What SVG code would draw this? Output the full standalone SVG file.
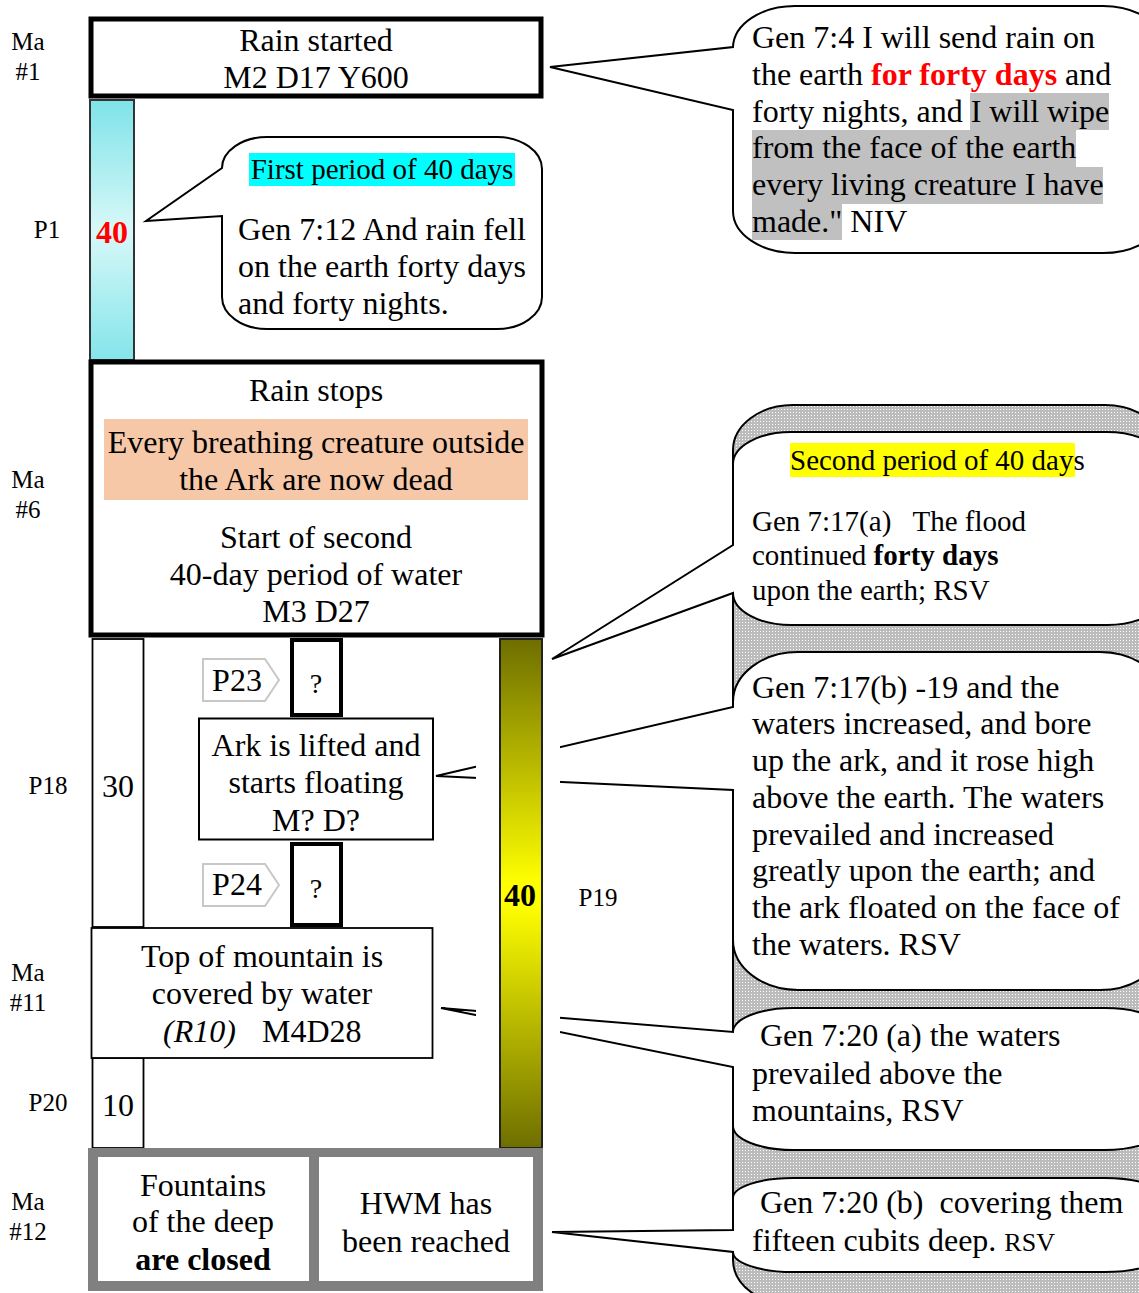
<svg xmlns="http://www.w3.org/2000/svg" width="1139" height="1293" viewBox="0 0 1139 1293">
<style>
text{font-family:"Liberation Serif","Times New Roman",serif;fill:#000}
.t32{font-size:32px}
.t29{font-size:29px}
.lbl{font-size:25px;text-anchor:middle}
.c{text-anchor:middle}
.b{font-weight:bold}
.box{fill:#fff;stroke:#000}
.call{fill:#fff;stroke:#000;stroke-width:2;stroke-linejoin:miter}
.conn{fill:none;stroke:#000;stroke-width:1.5}
.tag{fill:#fff;stroke:#c8c8c8;stroke-width:2}
</style>
<defs>
<linearGradient id="cyan" x1="0" y1="0" x2="0" y2="1">
<stop offset="0" stop-color="#7ee3e8"/><stop offset="0.5" stop-color="#d8f8f8"/><stop offset="1" stop-color="#84e5ea"/>
</linearGradient>
<linearGradient id="yel" x1="0" y1="0" x2="0" y2="1">
<stop offset="0" stop-color="#6e6e00"/><stop offset="0.48" stop-color="#ffff00"/><stop offset="0.52" stop-color="#ffff00"/><stop offset="1" stop-color="#6e6e00"/>
</linearGradient>
<pattern id="dots" width="3" height="3" patternUnits="userSpaceOnUse">
<rect width="3" height="3" fill="#bcbcbc"/><rect x="1" y="1" width="1" height="1" fill="#ffffff"/>
</pattern>
</defs>
<rect width="1139" height="1293" fill="#fff"/>

<!-- right-side callouts -->
<g id="callout-bg">
<path d="M793,405 H1105 A60 45 0 0 1 1165,450 V1260 A60 45 0 0 1 1105,1305 H793 A60 45 0 0 1 733,1260 V450 A60 45 0 0 1 793,405 Z" fill="url(#dots)" stroke="#000" stroke-width="2"/>
</g>
<g id="callout-b">
<path class="call" d="M798,652 H1100 A65 50 0 0 1 1165,702 V940 A65 50 0 0 1 1100,990 H798 A65 50 0 0 1 733,940 V790 L436,776 L733,707 V702 A65 50 0 0 1 798,652 Z"/>
<text class="t32" x="752" y="698">Gen 7:17(b) -19 and the</text>
<text class="t32" x="752" y="734">waters increased, and bore</text>
<text class="t32" x="752" y="771">up the ark, and it rose high</text>
<text class="t32" x="752" y="808">above the earth. The waters</text>
<text class="t32" x="752" y="845">prevailed and increased</text>
<text class="t32" x="752" y="881">greatly upon the earth; and</text>
<text class="t32" x="752" y="918">the ark floated on the face of</text>
<text class="t32" x="752" y="955">the waters. RSV</text>
</g>
<g id="callout-c">
<path class="call" d="M793,1008 H1105 A60 24 0 0 1 1165,1032 V1126 A60 24 0 0 1 1105,1150 H793 A60 24 0 0 1 733,1126 V1067 L441,1008 L733,1032 A60 24 0 0 1 793,1008 Z"/>
<text class="t32" x="760" y="1046">Gen 7:20 (a) the waters</text>
<text class="t32" x="752" y="1084">prevailed above the</text>
<text class="t32" x="752" y="1121">mountains, RSV</text>
</g>
<rect x="476" y="700" width="84" height="447" fill="#fff"/>
<g id="callout-a">
<path class="call" d="M791,432 H1107 A58 32 0 0 1 1165,464 V593 A58 32 0 0 1 1107,625 H791 A58 32 0 0 1 733,593 L552,659 L733,545 V464 A58 32 0 0 1 791,432 Z"/>
<rect x="790" y="443" width="285" height="34" fill="#ffff00"/>
<text class="t29" x="790" y="470">Second period of 40 days</text>
<text class="t29" x="752" y="531" xml:space="preserve">Gen 7:17(a)   The flood</text>
<text class="t29" x="752" y="565">continued <tspan class="b">forty days</tspan></text>
<text class="t29" x="752" y="600">upon the earth; RSV</text>
</g>
<g id="callout-d">
<path class="call" d="M793,1178 H1105 A60 20 0 0 1 1165,1198 V1252 A60 20 0 0 1 1105,1272 H793 A60 20 0 0 1 733,1252 L552,1232 L733,1230 V1198 A60 20 0 0 1 793,1178 Z"/>
<text class="t32" x="760" y="1213" xml:space="preserve">Gen 7:20 (b)  covering them</text>
<text class="t32" x="752" y="1251">fifteen cubits deep. <tspan font-size="26">RSV</tspan></text>
</g>
<g id="callout-top">
<path class="call" d="M795,6 H1103 A62 42 0 0 1 1165,48 V211 A62 42 0 0 1 1103,253 H795 A62 42 0 0 1 733,211 V110 L550,67 L733,47 A62 42 0 0 1 795,6 Z"/>
<rect x="970" y="93" width="139" height="37" fill="#c0c0c0"/>
<rect x="752" y="130" width="324" height="37" fill="#c0c0c0"/>
<rect x="752" y="167" width="351" height="37" fill="#c0c0c0"/>
<rect x="752" y="204" width="90" height="36" fill="#c0c0c0"/>
<text class="t32" x="752" y="48">Gen 7:4 I will send rain on</text>
<text class="t32" x="752" y="85">the earth <tspan class="b" fill="#ff0000">for forty days</tspan> and</text>
<text class="t32" x="752" y="122">forty nights, and I will wipe</text>
<text class="t32" x="752" y="158">from the face of the earth</text>
<text class="t32" x="752" y="195">every living creature I have</text>
<text class="t32" x="752" y="232">made." NIV</text>
</g>
<g id="callout-first">
<path class="call" d="M267,137 H497 A45 32 0 0 1 542,169 V297 A45 32 0 0 1 497,329 H267 A45 32 0 0 1 222,297 V216 L146,221 L222,168 A45 31 0 0 1 267,137 Z"/>
<rect x="249" y="153" width="266" height="33" fill="#00ffff"/>
<text class="t29 c" x="382" y="179">First period of 40 days</text>
<text class="t32" x="238" y="240">Gen 7:12 And rain fell</text>
<text class="t32" x="238" y="277">on the earth forty days</text>
<text class="t32" x="238" y="314">and forty nights.</text>
</g>

<!-- left labels -->
<g id="labels">
<text class="lbl" x="28" y="50">Ma</text><text class="lbl" x="28" y="80">#1</text>
<text class="lbl" x="47" y="238">P1</text>
<text class="lbl" x="28" y="488">Ma</text><text class="lbl" x="28" y="518">#6</text>
<text class="lbl" x="48" y="794">P18</text>
<text class="lbl" x="28" y="981">Ma</text><text class="lbl" x="28" y="1011">#11</text>
<text class="lbl" x="48" y="1111">P20</text>
<text class="lbl" x="28" y="1210">Ma</text><text class="lbl" x="28" y="1240">#12</text>
<text class="lbl" x="598" y="906">P19</text>
</g>

<g id="rain-started">
<rect class="box" x="91" y="19" width="450" height="77" stroke-width="5"/>
<text class="t32 c" x="316" y="51">Rain started</text>
<text class="t32 c" x="316" y="88">M2 D17 Y600</text>
</g>
<g id="p1-bar">
<rect x="90" y="100" width="44" height="260" fill="url(#cyan)" stroke="#333" stroke-width="2"/>
<text class="t32 b c" x="112" y="243" fill="#ff0000" style="fill:#ff0000">40</text>
</g>
<g id="rain-stops">
<rect class="box" x="91" y="362" width="451" height="273" stroke-width="5"/>
<rect x="104" y="419" width="424" height="81" fill="#f6c8a8"/>
<text class="t32 c" x="316" y="401">Rain stops</text>
<text class="t32 c" x="316" y="453">Every breathing creature outside</text>
<text class="t32 c" x="316" y="490">the Ark are now dead</text>
<text class="t32 c" x="316" y="548">Start of second</text>
<text class="t32 c" x="316" y="585">40-day period of water</text>
<text class="t32 c" x="316" y="622">M3 D27</text>
</g>
<g id="p18-bar">
<rect class="box" x="92.5" y="639" width="51" height="288" stroke-width="1.8"/>
<text class="t32 c" x="118" y="797">30</text>
</g>
<g id="p20-bar">
<rect class="box" x="92.5" y="1058" width="51" height="90" stroke-width="1.8"/>
<text class="t32 c" x="118" y="1116">10</text>
</g>
<g id="p19-bar">
<rect x="500" y="639" width="42" height="509" fill="url(#yel)" stroke="#222" stroke-width="2"/>
<text class="t32 b c" x="520" y="906">40</text>
</g>
<g id="p23">
<path class="tag" d="M203,659 H265 L279,680 L265,701 H203 Z"/>
<text class="t32 c" x="237" y="691">P23</text>
</g>
<g id="q1">
<rect class="box" x="292" y="640" width="49" height="75" stroke-width="4"/>
<text class="c" font-size="28" x="316" y="693">?</text>
</g>
<g id="ark-lifted">
<rect class="box" x="199" y="718.5" width="234" height="121" stroke-width="2"/>
<text class="t32 c" x="316" y="756">Ark is lifted and</text>
<text class="t32 c" x="316" y="793">starts floating</text>
<text class="t32 c" x="316" y="831">M? D?</text>
</g>
<g id="p24">
<path class="tag" d="M203,864 H265 L279,885 L265,906 H203 Z"/>
<text class="t32 c" x="237" y="895">P24</text>
</g>
<g id="q2">
<rect class="box" x="292" y="844" width="49" height="81" stroke-width="4"/>
<text class="c" font-size="28" x="316" y="898">?</text>
</g>
<g id="mountain">
<rect class="box" x="91.5" y="928" width="341" height="130" stroke-width="1.8"/>
<text class="t32 c" x="262" y="967">Top of mountain is</text>
<text class="t32 c" x="262" y="1004">covered by water</text>
<text class="t32" x="163" y="1042" font-style="italic">(R10)</text>
<text class="t32" x="262" y="1042">M4D28</text>
</g>
<g id="ma12">
<rect x="88" y="1148" width="455" height="143" fill="#808080"/>
<rect x="98" y="1157" width="211" height="124" fill="#fff"/>
<rect x="319" y="1157" width="214" height="124" fill="#fff"/>
<text class="t32 c" x="203" y="1196">Fountains</text>
<text class="t32 c" x="203" y="1232">of the deep</text>
<text class="t32 c b" x="203" y="1270">are closed</text>
<text class="t32 c" x="426" y="1214">HWM has</text>
<text class="t32 c" x="426" y="1252">been reached</text>
</g>
<g id="connectors"></g>
</svg>
